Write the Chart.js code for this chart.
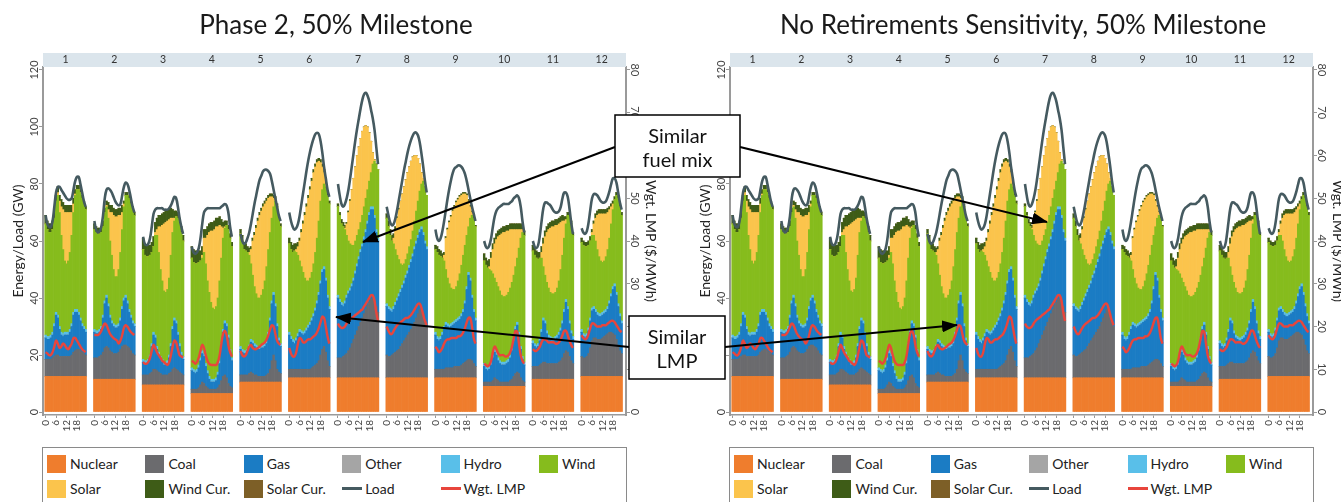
<!DOCTYPE html>
<html>
<head>
<meta charset="utf-8">
<script src="https://cdn.jsdelivr.net/npm/chart.js@4.4.1/dist/chart.umd.min.js"></script>
<style>
  html, body { margin: 0; padding: 0; background: #fff; }
  body { width: 1341px; height: 502px; overflow: hidden; position: relative; font-family: Lato, sans-serif; }
  .panel { position: absolute; top: 0; width: 672px; height: 445px; }
  .panel canvas { position: absolute; left: 0; top: 0; }
  .title { position: absolute; top: 8px; left: 0; width: 672px; text-align: center; font-size: 26px; color: #1a1a1a; }
  .legend { position: absolute; top: 447px; width: 585px; height: 62px; border: 1.5px solid #8a8a8a; box-sizing: border-box;
            padding: 3px 0 0 4px; display: grid; grid-template-columns: repeat(6, 98.4px); grid-auto-rows: 25px;
            font-size: 14px; color: #222; }
  .item { display: flex; align-items: center; white-space: nowrap; }
  .sw { width: 19px; height: 18px; margin-right: 4px; flex: none; }
  .ln { width: 20px; height: 3px; margin-right: 3px; flex: none; }
  svg.notes { position: absolute; left: 0; top: 0; }
</style>
</head>
<body>
<div class="panel" style="left:0"><canvas id="c1" width="672" height="445"></canvas><div class="title">Phase 2, 50% Milestone</div></div>
<div class="panel" style="left:687px"><canvas id="c2" width="672" height="445"></canvas><div class="title">No Retirements Sensitivity, 50% Milestone</div></div>
<div class="legend" id="lg1" style="left:42px"></div>
<div class="legend" id="lg2" style="left:729px"></div>

<svg class="notes" width="1341" height="502">
  <defs>
    <marker id="ah" markerWidth="16" markerHeight="12" refX="15" refY="6" orient="auto" markerUnits="userSpaceOnUse">
      <path d="M0,0 L16,6 L0,12 z" fill="#000"/>
    </marker>
  </defs>
  <g stroke="#000" stroke-width="2" marker-end="url(#ah)">
    <line x1="615" y1="147" x2="363" y2="242"/>
    <line x1="740" y1="147" x2="1047" y2="222"/>
    <line x1="629" y1="347" x2="336" y2="317"/>
    <line x1="725" y1="347" x2="957" y2="325"/>
  </g>
  <g font-family="Lato" font-size="20" text-anchor="middle" fill="#111">
    <rect x="615" y="115" width="125" height="62" fill="#fff" stroke="#000" stroke-width="1.5"/>
    <text x="677.5" y="143">Similar</text>
    <text x="677.5" y="167">fuel mix</text>
    <rect x="629" y="316" width="96" height="63" fill="#fff" stroke="#000" stroke-width="1.5"/>
    <text x="677" y="344">Similar</text>
    <text x="677" y="368">LMP</text>
  </g>
</svg>

<script>
// hourly profile per month (GW), 12 months x 24 hours
const months = ['1','2','3','4','5','6','7','8','9','10','11','12'];
const hourTicks = ['0','6','12','18'];

const nuclear = [12.5, 11.5, 9.5, 6.5, 10.5, 12, 12, 12, 12, 9, 11.5, 12.5];
const hydro = [1, 1, 1, 1, 1, 1, 1, 1, 1, 1, 1, 1];
const other = [0, 0, 0, 0, 0, 0, 0, 0, 0, 0, 0, 0];
const solarCur = [0, 0, 0, 0, 0, 0, 0, 0, 0, 0, 0, 0];

const coal = [
  [6,6,6,6,6.5,7,7.5,7.5,7,7,7,7,7,7,7,7.5,8.5,9,9.5,9.5,9,8.5,8,7.5],
  [7.5,7.5,7.5,8,8.5,9.5,11,11.5,11,10,9.5,9,9,9,9.5,10.5,11.5,12,12,11.5,11,10,9,8.5],
  [3.5,3.5,3.5,3.5,4,4.5,5.5,5.5,5,4.5,4,3.5,3.5,3.5,3.5,4,4.5,5.5,6,5.5,5,4.5,4,3.5],
  [1.5,1.5,1.5,1.5,2,3,4,3.5,2.5,2,1.5,1.5,1.5,1.5,1.5,2,3,4.5,6,6.5,5.5,3.5,2.5,2],
  [2.5,2.5,2.5,2.5,2.5,3,3.5,3,2.5,2.5,2,2,2,2,2,2.5,3,4.5,7.5,9.5,7.5,4.5,3.5,3],
  [3,3,3,3,3,3,3,3,3,3,3,3,3,3.5,4,4.5,5,6,8,10,11,9,6,4],
  [7,7,7,7.5,8,8.5,9.5,10.5,12,13.5,15,16.5,18,19.5,21,22.5,24,25.5,26.5,27.5,28,27,25,23],
  [8,7.5,7.5,8,8.5,9,9.5,10,11,12,13,14,15,16,17,18,19.5,21,22.5,24,24,22.5,20,18],
  [3,3,3,3,3,3,3.5,3.5,3.5,3.5,3.5,4,4,4,4,4.5,5,5.5,6,6.5,6.5,6,5,4],
  [1.5,1.5,1.5,1.5,1.5,2,3,2.5,2,1.5,1.5,1.5,1.5,1.5,1.5,2,2.5,3.5,4.5,5,4.5,3,2,1.5],
  [4.5,4.5,4.5,4.5,5,5.5,6,6,5.5,5.5,5.5,5.5,5.5,5.5,5.5,6,6.5,7.5,9,10,9.5,8,6.5,5.5],
  [7,6.5,6.5,7,8,10,12.5,13.5,13.5,13,13,13,13.5,14,14.5,15,15.5,15.5,15,14.5,13,11,9,8]
];

const gas = [
  [7.5,7,7,7.5,8,10.5,14,13,9.5,7.5,7,7.5,7.5,7.5,8.5,10,13,13.5,13,12,10.5,9,8.5,8],
  [9,8.5,8.5,8.5,9,12,15.5,17,14.5,11.5,10,9.5,9,9,9,10,13,15.5,16.5,15,12.5,11.5,10.5,10],
  [4.5,4,4,4.5,5.5,9,12,11,7.5,6,5,4.5,3.5,3.5,4,5.5,9,14,16.5,16,12.5,9,6.5,5.5],
  [6.5,6,5.5,6,7,8.5,10,9.5,7,5,3.5,2.5,2.5,2.5,3,4.5,7.5,12,15.5,18,18,16,12,9.5],
  [9,8,7.5,7.5,8,9,10.5,10.5,10,9.5,9.5,9.5,10,10,10.5,11,13.5,17,20,21,19,15,11,9.5],
  [12,10.5,9.5,9,10,11.5,13,12.5,12,12.5,13.5,14.5,15.5,16.5,17.5,19,21,23,25,27,27,25,22,20],
  [21,19.5,18.5,17.5,18,19.5,20,20,20,20.5,21.5,22.5,23.5,24.5,25,26,27,28.5,30.5,31.5,31,29,26,25],
  [17,16.5,16,15,15.5,16.5,17.5,18.5,19,19.5,20,21,21.5,22.5,23.5,24.5,25.5,26,26.5,27,28,27.5,27,27],
  [12,10.5,10,10.5,12,14,15,14.5,14,14.5,15,15,15.5,16,16.5,17,18,20.5,25,29.5,27.5,22,18,16],
  [5.5,4.5,4,4.5,6,8,9,8.5,7,6.5,6,6,6,6.5,7,8,10,12.5,15.5,16.5,13.5,10,7.5,6],
  [8,7,6.5,7,8.5,11,14.5,13.5,10.5,9,8.5,8,8,8.5,9,9.5,10.5,12,14.5,17,15,11.5,9.5,8.5],
  [8.5,7.5,7,7,8,9.5,10.5,10,9,8.5,8,8,8,8,8,8.5,10,12.5,15.5,17,15.5,13.5,12,10.5]
];

const wind = [
  [39,37.5,36.5,36,36,37,39,42,40,34,29.5,25,24,25,27,31,35,40,42,43,44,44,43,42],
  [35,34.5,34,33.5,33,31,31,31,30,26,23,19,17,17,19,23,27,32,35,37,39,39,39,38],
  [38.5,37,36.5,36,35,32,30,35,39,35,30.5,27.5,25,24.5,25,27,31,33,34,36.5,40,42,42,40.5],
  [38.5,37.5,37.5,37,36,34,32.5,35.5,35,31.5,29.5,27,25,24.5,25,26,28,30,32,32.5,34.5,37,39,39],
  [39.5,38,35.5,35,34,31.5,26.5,23,20,18,17,17,17.5,19.5,22,26,29,30,29,30,36,41,42,41],
  [31,30.5,30.5,31.5,30,27.5,24,22.5,21,18.5,16.5,15.5,15.5,16,17.5,19.5,22,25,28,28,29,32,35,36],
  [31,29.5,27.5,27,25,21,17.5,15.5,13.5,11.5,10.5,10,9.5,9.5,10,10.5,11,11,11,12,15,19,23,24],
  [30,28,25.5,24,22,18.5,15,12,9,7,6,5.5,6,6.5,7,8,9,10.5,12,13.5,15,18,19,18],
  [29,29.5,29,28,26,23,18.5,16,14.5,12.5,11.5,11,11.5,13,15,17,19,19.5,18,16,21,28,32,32],
  [36,35.5,35,34,32,28.5,25,24.5,25,24.5,23.5,23,23,23,23.5,23.5,23,22,21,22.5,29.5,38,43.5,44.5],
  [31.5,31,30.5,29.5,28,25,18,16,17,16.5,15.5,15.5,15.5,15.5,16.5,18,20.5,23,25,26.5,32,37,37.5,35.5],
  [30.5,31,31,30.5,29,27,25.5,25,24,22,20,18.5,17.5,17.5,18.5,20,22,24.5,27,29.5,34,37,37.5,37]
];

const solar = [
  [0,0,0,0,0,0,0,1,4,10,14,17,18,17,14,8,3,0.5,0,0,0,0,0,0],
  [0,0,0,0,0,0,0,0.5,3,10,15,19,21,21,19,13,6,1,0,0,0,0,0,0],
  [0,0,0,0,0,0,0,1,2,9,15,19.5,23.5,24.5,24,20.5,13,5,1,0,0,0,0,0],
  [0,0,0,0,0,0,1,5,9,16,21,25,27,28,28,25,19.5,11,3.5,0.5,0,0,0,0],
  [0,0,0,0,0,1,5,12,18,23,27,29,29.5,29,27,23,18,12.5,7.5,3,0.5,0,0,0],
  [0,0,0,0,1,3,7,12,17,22,26,29,31,32,32,30,26.5,21,13.5,8,4,1,0,0],
  [0,0,0,0,0.5,4,10,15,19.5,23.5,26,28,29,29.5,29.5,28,25.5,22,17,11,4,0.5,0,0],
  [0,0,0,0,2,7,13,17.5,22,25,27,28,28.5,28,27.5,26,23,19.5,15,9.5,4,1,0,0],
  [0,0,0,0,0,2,11,17,21.5,25,27.5,29,29.5,28.5,27,24.5,21.5,18,14,9,4,1,0,0],
  [0,0,0,1,4.5,8.5,12,15,17.5,19.5,21.5,22.5,22.5,22.5,21.5,20.5,18.5,16,13,10,6.5,3,1,0],
  [0,0,0,0,0,2,8,13.5,17.5,20.5,22.5,23.5,23.5,23.5,22,20,16.5,12,6,1.5,0,0,0,0],
  [0,0,0,0,0,0,1,4,8,12,15,16.5,17,16.5,15,13,10,6,2,0,0,0,0,0]
];

const windCur = [
  [3,3,3,3,3,2.5,2,2,2,2.5,2.5,2.5,2.5,2.5,2.5,2.5,2,1.5,1.5,1.5,1,1,1,1],
  [2,2,2,2,2,2,1.5,1.5,2.5,2.5,2.5,2.5,2.5,2.5,2.5,2.5,2.5,1,1,1,1,1,1,1],
  [4,4,4,4,3.5,3.5,3.5,3.5,4,4,4,4,4,4,4,4,3.5,3,2.5,2,2,2,2,2],
  [4,4.5,4.5,4.5,4,3.5,3,3,3,3,3,3,3,3,3,3,3,2.5,2,2,1.5,1.5,1.5,1.5],
  [1.5,2,2.5,2.5,2,1.5,1,1,1,1,1,1,1,1,1,1,1,1,1,1,1,1,1,1],
  [2,2.5,2.5,2.5,2,1.5,1,1,1,1,1,1,1,1,1,1,1,1,1,1,1,1,1,1],
  [1,1,1.5,1.5,1,0.5,0.5,0.5,0,0,0,0,0,0,0,0,0,0,0,0,0,0,0,0],
  [1.5,2,2,2,1.5,1,0.5,0.5,0,0,0,0,0,0,0,0,0,0,0,0,0,0,0,0],
  [1.5,2,2,2,1.5,1,0.5,0.5,0.5,0.5,0.5,0.5,0.5,0.5,0.5,0.5,0.5,0.5,0.5,0.5,0.5,0.5,0.5,0.5],
  [2.5,2.5,2.5,2.5,2,2,2,2,2,2,2,2,2,2,2,2,2,2,2,2,2,2,1.5,1.5],
  [2,2.5,2.5,2.5,2,2,2,2,2,2,2,2,2,2,2,2,2,2,1.5,1,1,1,1,1],
  [1.5,1.5,1.5,1.5,1.5,1.5,1,1,1.5,1.5,1.5,1.5,1.5,1.5,1.5,1.5,1,1,1,1,1,1,1,1]
];

const load = [
  [69,66,65,65,67,72,77,79,79,78,77,76,75,74.5,74.5,75,78,81,82.5,82.5,80,77,74,72],
  [67,64,63,63.5,65,69,75,78,78.5,78,77,75.5,74,73,72.5,73,76,79,80.5,80,78,75,72,70],
  [61.5,59,58.5,59,61,65,69.5,71,71.5,71.5,71.5,71.5,71,71,71,71.5,72.5,74,75.5,75,72,68,65,62.5],
  [58,56,55.5,56,57.5,61,66,70,71,71.5,71.5,71.5,71.5,71.5,71.5,71.5,71.5,72,72.5,73,72.5,70,65,61.5],
  [62.5,60,59,59.5,61,63,66,69.5,73,76,79,81.5,83,84.5,85,85,84.5,83.5,81,78,75,72,69,67],
  [70,67,65,64,64.5,66,69,73,77,81,85,88.5,91.5,94,96,97.5,98,97.5,95,91,86,82,78,75.5],
  [80,76,73,72,73,75,78,82,86.5,91,95.5,99.5,103,106.5,109.5,111.5,112,111,109,106,103,99,93,87],
  [72,69,66.5,65.5,66,68,71,74.5,78,81.5,85,88,91,93.5,95.5,97,98,98,97,94.5,90.5,86,81,77],
  [64,61,60,61,63.5,67,71,75,78.5,81.5,84,85.5,86,86.5,86.5,86,85,83.5,81,78,75,72,69.5,67],
  [60,58,57.5,58.5,61,65,68.5,70.5,71.5,72,72.5,73,73,73,73,73.5,74,75,75.5,76,75,72,67,63],
  [60,58,57.5,58.5,62,67,71.5,73.5,73.5,73,72.5,71.5,70.5,70,70,70.5,72,75,77,77,75.5,71.5,66.5,62.5],
  [64.5,63,62.5,63.5,66.5,71,75,76.5,76.5,76,75,74,73.5,73.5,74,75.5,77.5,80,82,82,80.5,77,73.5,71]
];

// weighted LMP, $/MWh
const lmp = [
  [14,13.7,13.3,13.3,14,15.3,16.7,16,15,15.3,16,15.7,15,14.7,15.3,16,17.3,17.3,16.7,16,15.3,14.7,14.3,14],
  [18,18,18,18.3,19,20,20.7,20.3,19.3,18.3,17.7,17.3,17,16.7,16,16.7,18,19.7,20.3,20,19.3,18.7,18.3,18],
  [11.7,11.3,11.3,11.7,12.7,14.3,15.7,15,14,13.3,12.7,12,11.7,11.3,11,11.7,13.3,15.3,16.7,16.3,14.7,13.3,13,12.7],
  [12,11.7,11.3,11.7,12.7,14.3,15.7,15,13.3,12,11.3,11,11,11,11,11.7,13.3,16,18.3,19,18,15.7,14,13],
  [14.3,13.3,13,13.3,14.3,15.3,15.7,15,14.7,14.7,15,15.3,15.7,16,16.3,17,18,19.3,20.3,20,18.3,16.7,16,15.7],
  [15,13.7,13,13,14,16,17.3,17,16.3,16.3,16.7,17,17,17.3,17.7,18,18.7,19.7,21,22.3,22,20,17.7,16],
  [20.7,20,19.7,19.7,20,20.7,21.3,21.7,22,22.3,22.7,23,23.3,23.7,24,24.7,25.3,26,26.7,27.3,27.3,26,23.3,21.3],
  [20,19,18.3,18.3,19,19.7,20.3,20.7,21,21.3,21.7,22,22,22.3,22.7,23.3,24,24.7,25.3,25.3,24.3,22.7,21.3,20.3],
  [15.3,14.7,14,14.3,15,16,16.7,17,17,17.3,17.3,17.3,17.3,17.7,17.7,18,18.7,19.7,21,22,22,20,17.3,16],
  [11.3,11,10.7,11,12,14,15.3,14.7,13.7,13.3,13.3,13.3,13,13,13.3,14,15.3,17.3,19,18.7,16,13.3,12,11.3],
  [14.7,14.3,14.3,14.7,15.3,16.3,17,17,16.7,16.3,16.3,16.3,16.3,16,16,16.3,17,18,19,19,18,16.7,15.7,15],
  [18,17.3,17,17.3,18.3,19.7,20.7,20.7,20.3,20,20,20,20.3,20.3,20.3,20.7,21,21.3,21.3,21,20.3,19.7,19,18.7]
];

// facet layout: blank slots before, between and after the months
const LEAD = 1, GAP = 4, TAIL = 2;

function spread(byMonth) {
  const out = Array(LEAD).fill(null);
  byMonth.forEach((m, i) => {
    for (let h = 0; h < 24; h++) out.push(Array.isArray(m) ? m[h] : m);
    out.push(...Array(i < byMonth.length - 1 ? GAP : TAIL).fill(null));
  });
  return out;
}

const hourLabels = Array.from({ length: 24 }, (_, h) => String(h));
const labels = spread(months.map(() => hourLabels)).map(v => (v === null ? '' : v));

const genSeries = [
  ['Nuclear', nuclear, '#ef7d2d'],
  ['Coal', coal, '#6b6b6e'],
  ['Gas', gas, '#1b7cc4'],
  ['Other', other, '#a5a5a5'],
  ['Hydro', hydro, '#59bfe9'],
  ['Wind', wind, '#86bc1d'],
  ['Solar', solar, '#fbc44c'],
  ['Wind Cur.', windCur, '#3e5c17'],
  ['Solar Cur.', solarCur, '#7d5f27']
];
const loadColor = '#455a60';
const lmpColor = '#e8453c';

const monthStrip = {
  id: 'monthStrip',
  afterDraw(chart) {
    const { ctx, chartArea: a, scales: { x } } = chart;
    ctx.save();
    ctx.fillStyle = '#dbe5ec';
    ctx.fillRect(a.left, a.top - 14, a.right - a.left, 14);
    ctx.fillStyle = '#333';
    ctx.font = '10.5px Lato';
    ctx.textAlign = 'center';
    ctx.textBaseline = 'middle';
    months.forEach((m, i) => {
      const first = LEAD + i * (24 + GAP);
      const cx = (x.getPixelForValue(first) + x.getPixelForValue(first + 23)) / 2;
      ctx.fillText(m, cx, a.top - 7);
    });
    ctx.restore();
  }
};

const axisText = {
  id: 'axisText',
  afterDraw(chart) {
    const { ctx, chartArea: a, scales } = chart;
    const put = (txt, x, y, rot, font) => {
      ctx.save();
      ctx.translate(x, y);
      ctx.rotate(rot);
      ctx.font = font;
      ctx.fillText(txt, 0, 0);
      ctx.restore();
    };
    ctx.save();
    ctx.textAlign = 'center';
    ctx.textBaseline = 'middle';
    ctx.fillStyle = '#444';
    scales.y.ticks.forEach(t => put(String(t.value), a.left - 9, scales.y.getPixelForValue(t.value), -Math.PI / 2, '11px Lato'));
    scales.y2.ticks.forEach(t => put(String(t.value), a.right + 9, scales.y2.getPixelForValue(t.value), Math.PI / 2, '11px Lato'));
    ctx.fillStyle = '#222';
    const mid = (a.top + a.bottom) / 2;
    put('Energy/Load (GW)', a.left - 25, mid, -Math.PI / 2, '14px Lato');
    put('Wgt. LMP ($/MWh)', a.right + 25, mid, Math.PI / 2, '14px Lato');
    ctx.restore();
  }
};

function drawPanel(id) {
  const datasets = genSeries.map(([label, vals, color]) => ({
    label,
    data: spread(vals),
    backgroundColor: color,
    borderWidth: 0,
    barPercentage: 1,
    categoryPercentage: 1,
    stack: 'gen',
    order: 2,
    yAxisID: 'y'
  }));
  datasets.push({
    type: 'line', label: 'Load', data: spread(load), borderColor: loadColor, borderWidth: 2.6,
    pointRadius: 0, tension: 0.4, stack: 'load', order: 1, yAxisID: 'y'
  });
  datasets.push({
    type: 'line', label: 'Wgt. LMP', data: spread(lmp), borderColor: lmpColor, borderWidth: 2.4,
    pointRadius: 0, tension: 0.4, order: 0, yAxisID: 'y2'
  });

  return new Chart(document.getElementById(id), {
    type: 'bar',
    data: { labels, datasets },
    options: {
      responsive: false,
      animation: false,
      events: [],
      layout: { padding: { top: 67, left: 0, right: 0, bottom: 0 } },
      plugins: { legend: { display: false }, tooltip: { enabled: false } },
      scales: {
        x: {
          stacked: true,
          grid: { display: true, drawOnChartArea: false, drawTicks: true, tickLength: 3, offset: false, color: '#999' },
          border: { display: true, color: '#9a9a9a', width: 1.5 },
          ticks: {
            autoSkip: false, minRotation: 90, maxRotation: 90, padding: 2,
            color: '#444', font: { family: 'Lato', size: 10 },
            callback: (v, i) => (hourTicks.includes(labels[i]) ? labels[i] : null)
          },
          afterFit: s => { s.height = 30; }
        },
        y: {
          stacked: true, min: -1.05, max: 121.05,
          ticks: { stepSize: 20, includeBounds: false, display: false },
          grid: { drawOnChartArea: false, drawTicks: true, tickLength: 4, color: '#999' },
          border: { color: '#9a9a9a', width: 2 },
          afterFit: s => { s.width = 43; }
        },
        y2: {
          position: 'right', min: -0.7, max: 80.7,
          ticks: { stepSize: 10, includeBounds: false, display: false },
          grid: { drawOnChartArea: false, drawTicks: true, tickLength: 4, color: '#999' },
          border: { color: '#9a9a9a', width: 2 },
          afterFit: s => { s.width = 46; }
        }
      }
    },
    plugins: [monthStrip, axisText]
  });
}

function buildLegend(id) {
  const el = document.getElementById(id);
  const items = genSeries.map(([label, , color]) => [label, color, 'sw'])
    .concat([['Load', loadColor, 'ln'], ['Wgt. LMP', lmpColor, 'ln']]);
  items.forEach(([label, color, kind]) => {
    const it = document.createElement('div');
    it.className = 'item';
    const mark = document.createElement('span');
    mark.className = kind;
    mark.style.background = color;
    it.appendChild(mark);
    it.appendChild(document.createTextNode(label));
    el.appendChild(it);
  });
}

drawPanel('c1');
drawPanel('c2');
buildLegend('lg1');
buildLegend('lg2');
</script>
</body>
</html>
